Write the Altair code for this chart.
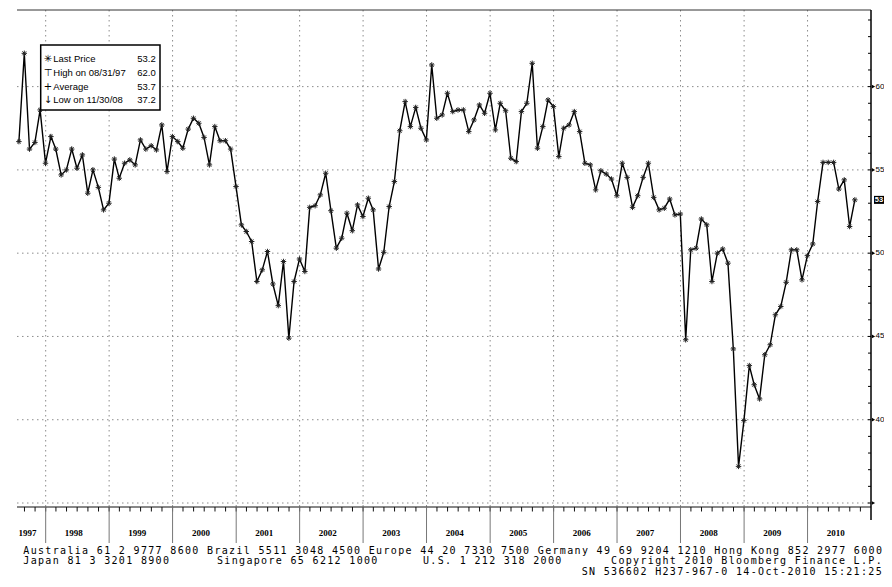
import altair as alt
import pandas as pd

# ---------------- data ----------------
# month-end values, Jul 1997 .. Sep 2010
values = [
    56.7, 62.0, 56.25, 56.65, 58.6, 55.4,                      # 1997 Jul-Dec
    57.0, 56.25, 54.7, 55.0, 56.25, 55.1, 55.9, 53.6, 55.0, 53.95, 52.6, 53.0,   # 1998
    55.65, 54.5, 55.4, 55.6, 55.3, 56.8, 56.25, 56.45, 56.2, 57.7, 54.9, 57.0,   # 1999
    56.7, 56.3, 57.45, 58.1, 57.8, 56.95, 55.3, 57.6, 56.75, 56.75, 56.25, 54.0, # 2000
    51.7, 51.3, 50.7, 48.3, 49.0, 50.1, 48.15, 46.85, 49.5, 44.9, 48.3, 49.65,   # 2001
    48.9, 52.75, 52.85, 53.5, 54.8, 52.55, 50.3, 50.9, 52.4, 51.35, 52.9, 52.2,  # 2002
    53.3, 52.6, 49.05, 50.05, 52.8, 54.3, 57.35, 59.1, 57.6, 58.75, 57.5, 56.8,  # 2003
    61.3, 58.1, 58.3, 59.6, 58.5, 58.6, 58.6, 57.3, 58.0, 58.9, 58.4, 59.6,      # 2004
    57.4, 59.0, 58.55, 55.7, 55.5, 58.5, 59.0, 61.4, 56.3, 57.6, 59.2, 58.8,     # 2005
    55.8, 57.5, 57.7, 58.5, 57.3, 55.4, 55.3, 53.8, 54.95, 54.75, 54.45, 53.45,  # 2006
    55.4, 54.55, 52.75, 53.45, 54.55, 55.4, 53.35, 52.6, 52.7, 53.25, 52.3, 52.35,  # 2007
    44.8, 50.2, 50.3, 52.05, 51.7, 48.3, 50.0, 50.25, 49.4, 44.25, 37.2, 39.95,  # 2008
    43.25, 42.1, 41.25, 43.9, 44.5, 46.3, 46.8, 48.25, 50.2, 50.2, 48.4, 49.85,  # 2009
    50.55, 53.1, 55.45, 55.45, 55.45, 53.85, 54.4, 51.6, 53.2,                   # 2010
]
dates = pd.date_range("1997-07-31", periods=len(values), freq="ME").strftime("%Y-%m-%d").tolist()

year_names = [str(y) for y in range(1997, 2011)]
year_label_dates = ["1997-09-18"] + [f"{y}-06-12" for y in range(1998, 2011)]
year_starts = [f"{y}-01-01" for y in range(1998, 2011)]
sep_lines = [f"{y}-01-01" for y in range(1998, 2011)]
minor_month_ticks = pd.date_range("1997-09-01", "2010-11-01", freq="2MS").strftime("%Y-%m-%d").tolist()

grid_values = [35, 40, 45, 50, 55, 60]
label_values = [40, 45, 50, 55, 60]
label_texts = ["40", "45", "50", "55", "60"]
minor_y = list(range(35, 65))

last_price = 53.2
last_tag = "53"

legend_symbols = ["\u2733", "\u22a4", "+", "\u2193"]
legend_labels = ["Last Price", "High on 08/31/97", "Average", "Low on 11/30/08"]
legend_values = ["53.2", "62.0", "53.7", "37.2"]

footer1 = "Australia 61 2 9777 8600 Brazil 5511 3048 4500 Europe 44 20 7330 7500 Germany 49 69 9204 1210 Hong Kong 852 2977 6000"
footer2 = ["Japan 81 3 3201 8900", "Singapore 65 6212 1000", "U.S. 1 212 318 2000",
           "Copyright 2010 Bloomberg Finance L.P."]
footer3 = "SN 536602 H237-967-0 14-Oct-2010 15:21:25"

# ---------------- layout ----------------
W, H = 854, 497
SANS = "Liberation Sans, Arial, sans-serif"
MONO = "DejaVu Sans Mono, monospace"
PITCH = 7.35   # character pitch of the footer terminal font
RIGHT_EDGE = 866.0

xs = alt.Scale(type="utc", domain=[alt.DateTime(year=1997, month=7, date=20, utc=True),
                                   alt.DateTime(year=2011, month=1, date=1, utc=True)])
ys = alt.Scale(domain=[34.76, 64.6], nice=False, zero=False)

one = pd.DataFrame({"a": [0]})
ASTER = "M-1,0L1,0M0,-1L0,1M-0.7,-0.7L0.7,0.7M-0.7,0.7L0.7,-0.7"

df = pd.DataFrame({"date": dates, "value": values})
X = alt.X("date:T", scale=xs, axis=None)
Y = alt.Y("value:Q", scale=ys, axis=None)

layers = []

# gridlines
layers.append(alt.Chart(pd.DataFrame({"v": grid_values})).mark_rule(
    color="#8c8c8c", strokeDash=[1.5, 3.5], strokeWidth=1).encode(
    y=alt.Y("v:Q", scale=ys, axis=None), x=alt.value(0), x2=alt.value(W)))
layers.append(alt.Chart(pd.DataFrame({"d": year_starts})).mark_rule(
    color="#8c8c8c", strokeDash=[1.5, 3.5], strokeWidth=1).encode(
    x=alt.X("d:T", scale=xs, axis=None), y=alt.value(0), y2=alt.value(H)))

# frame top and x axis line
layers.append(alt.Chart(one).mark_rule(color="#333333", strokeWidth=1).encode(
    x=alt.value(0), x2=alt.value(W), y=alt.value(0)))
layers.append(alt.Chart(one).mark_rule(color="#111111", strokeWidth=1).encode(
    x=alt.value(0), x2=alt.value(W), y=alt.value(H)))

# x ticks, year separators, year labels
layers.append(alt.Chart(pd.DataFrame({"d": minor_month_ticks})).mark_rule(
    color="#111111", strokeWidth=1).encode(
    x=alt.X("d:T", scale=xs, axis=None), y=alt.value(H), y2=alt.value(H + 4.5)))
layers.append(alt.Chart(pd.DataFrame({"d": sep_lines})).mark_rule(
    color="#777777", strokeWidth=1).encode(
    x=alt.X("d:T", scale=xs, axis=None), y=alt.value(H), y2=alt.value(H + 36)))
layers.append(alt.Chart(pd.DataFrame({"d": year_label_dates, "t": year_names})).mark_text(
    font="Liberation Serif, serif", fontWeight="bold", fontSize=9, color="black",
    align="center", baseline="middle").encode(
    x=alt.X("d:T", scale=xs, axis=None), y=alt.value(H + 26), text="t:N"))

# right axis
layers.append(alt.Chart(one).mark_rule(color="black", strokeWidth=1.5).encode(
    x=alt.value(W), y=alt.value(0), y2=alt.value(H + 13)))
layers.append(alt.Chart(pd.DataFrame({"v": minor_y})).mark_rule(color="black", strokeWidth=1).encode(
    y=alt.Y("v:Q", scale=ys, axis=None), x=alt.value(W - 3), x2=alt.value(W)))
layers.append(alt.Chart(pd.DataFrame({"v": grid_values})).mark_point(
    shape="triangle-right", size=14, filled=True, color="black", opacity=1).encode(
    y=alt.Y("v:Q", scale=ys, axis=None), x=alt.value(W + 2.5)))
layers.append(alt.Chart(pd.DataFrame({"v": label_values, "t": label_texts})).mark_text(
    font=SANS, fontSize=8, color="black", align="left", baseline="middle").encode(
    y=alt.Y("v:Q", scale=ys, axis=None), x=alt.value(W + 4.5), text="t:N"))

# last price tag
layers.append(alt.Chart(pd.DataFrame({"v": [last_price]})).mark_point(
    shape="M-1,-0.8L1,-0.8L1,0.8L-1,0.8Z", size=100, filled=True, color="black", opacity=1).encode(
    y=alt.Y("v:Q", scale=ys, axis=None), x=alt.value(W + 8)))
layers.append(alt.Chart(pd.DataFrame({"v": [last_price], "t": [last_tag]})).mark_text(
    font=SANS, fontSize=7.5, fontWeight="bold", color="white", align="center", baseline="middle").encode(
    y=alt.Y("v:Q", scale=ys, axis=None), x=alt.value(W + 8), text="t:N"))

# series
layers.append(alt.Chart(df).mark_line(color="black", strokeWidth=1.4).encode(x=X, y=Y))
layers.append(alt.Chart(df).mark_point(shape=ASTER, size=30, filled=False, color="#222222",
                                       strokeWidth=1, opacity=1).encode(x=X, y=Y))

# legend box
layers.append(alt.Chart(one).mark_rect(fill="white", stroke="black", strokeWidth=1.5).encode(
    x=alt.value(23.7), x2=alt.value(143), y=alt.value(35), y2=alt.value(100)))
row_y = [49.3, 62.7, 76.7, 90.0]
for sym, lab, val, ry in zip(legend_symbols, legend_labels, legend_values, row_y):
    layers.append(alt.Chart(one).mark_text(text=sym, font="DejaVu Sans", fontSize=10, color="black",
                                           align="center", baseline="middle").encode(
        x=alt.value(31), y=alt.value(ry)))
    layers.append(alt.Chart(one).mark_text(text=lab, font=SANS, fontSize=9.5, color="black",
                                           align="left", baseline="middle").encode(
        x=alt.value(36.3), y=alt.value(ry)))
    layers.append(alt.Chart(one).mark_text(text=val, font=SANS, fontSize=9.5, color="black",
                                           align="right", baseline="middle").encode(
        x=alt.value(138.7), y=alt.value(ry)))

# footer: every character placed on the terminal's character grid
footer_items = [
    (footer1, 6.3, 540.5),
    (footer2[0], 6.3, 551.0),
    (footer2[1], 200.0, 551.0),
    (footer2[2], 406.0, 551.0),
    (footer2[3], RIGHT_EDGE - len(footer2[3]) * PITCH, 551.0),
    (footer3, RIGHT_EDGE - len(footer3) * PITCH, 561.5),
]
for txt, fx, fy in footer_items:
    chars = pd.DataFrame({"ch": list(txt), "col": list(range(len(txt)))})
    chars = chars[chars["ch"] != " "]
    layers.append(alt.Chart(chars).mark_text(font=MONO, fontSize=10, color="black",
                                             align="left", baseline="middle").encode(
        x=alt.X("col:Q", axis=None,
                scale=alt.Scale(domain=[0, 1], range=[fx, fx + PITCH], zero=False, nice=False)),
        y=alt.value(fy), text="ch:N"))

chart = alt.layer(*layers).resolve_scale(x="independent").properties(
    width=W, height=H,
    padding={"left": 9, "top": 2, "right": 13, "bottom": 70},
    autosize=alt.AutoSizeParams(type="none"),
    background="white",
).configure_view(strokeWidth=0)

chart.save("out.html", embed_options={"renderer": "svg", "actions": False})
